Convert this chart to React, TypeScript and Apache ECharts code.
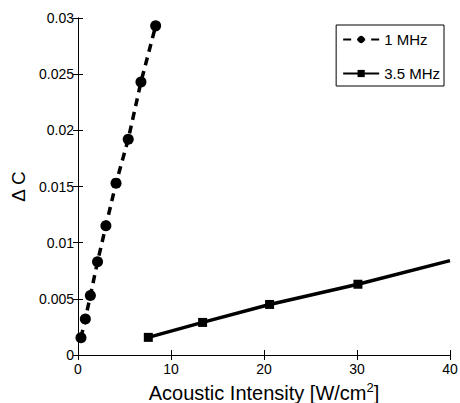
import React, { useEffect, useRef } from "react";
import * as echarts from "echarts";

const oneMHzX = [0.32, 0.79, 1.33, 2.1, 3.0, 4.09, 5.4, 6.77, 8.35];
const oneMHzY = [0.00154, 0.0032, 0.0053, 0.0083, 0.0115, 0.0153, 0.0192, 0.0243, 0.0293];
const threeMHzX = [7.56, 13.4, 20.6, 30.1, 40];
const threeMHzY = [0.00157, 0.0029, 0.0045, 0.0063, 0.0084];
const seriesNames = ["1 MHz", "3.5 MHz"];

export default function App() {
  const ref = useRef<HTMLDivElement>(null);
  useEffect(() => {
    if (!ref.current) return;
    const chart = echarts.init(ref.current, null, { renderer: "svg" });
    const font = "'Liberation Sans', Arial, Helvetica, sans-serif";
    const axisCommon = {
      axisLine: { lineStyle: { color: "#000", width: 1 } },
      splitLine: { show: false },
    };
    chart.setOption({
      animation: false,
      backgroundColor: "#fff",
      textStyle: { fontFamily: font, color: "#000" },
      grid: { left: 78, right: 10, top: 18, bottom: 48, outerBoundsMode: "none", containLabel: false },
      legend: {
        orient: "vertical",
        right: 16,
        top: 25,
        data: seriesNames,
        borderColor: "#000",
        borderWidth: 1,
        backgroundColor: "#fff",
        padding: [7, 4, 5, 6],
        itemGap: 19,
        itemWidth: 36,
        itemHeight: 9,
        textStyle: { fontSize: 15, color: "#000", fontFamily: font },
      },
      xAxis: [
        {
          type: "value",
          min: 0,
          max: 40,
          interval: 10,
          name: "{a|Acoustic Intensity [W/cm}{s|2}{a|]}",
          nameLocation: "middle",
          nameGap: 24,
          nameTextStyle: {
            rich: {
              a: { fontSize: 20, fontFamily: font, color: "#000", lineHeight: 22, verticalAlign: "bottom" },
              s: { fontSize: 13, fontFamily: font, color: "#000", lineHeight: 22, verticalAlign: "top" },
            },
          },
          axisTick: { inside: true, length: 5, lineStyle: { color: "#000" } },
          axisLabel: { fontSize: 14, color: "#000", fontFamily: font, margin: 7 },
          ...axisCommon,
        },
        {
          type: "value",
          position: "top",
          min: 0,
          max: 40,
          interval: 10,
          axisTick: { inside: true, length: 5, lineStyle: { color: "#000" } },
          axisLabel: { show: false },
          ...axisCommon,
        },
      ],
      yAxis: [
        {
          type: "value",
          min: 0,
          max: 0.03,
          interval: 0.005,
          name: "Δ C",
          nameLocation: "middle",
          nameGap: 50,
          nameTextStyle: { fontSize: 19, color: "#000", fontFamily: font },
          axisTick: { inside: true, length: 5, lineStyle: { color: "#000" } },
          axisLabel: { fontSize: 14, color: "#000", fontFamily: font, margin: 4 },
          ...axisCommon,
        },
        {
          type: "value",
          position: "right",
          min: 0,
          max: 0.03,
          interval: 0.005,
          axisTick: { inside: true, length: 5, lineStyle: { color: "#000" } },
          axisLabel: { show: false },
          ...axisCommon,
        },
      ],
      series: [
        {
          name: seriesNames[0],
          type: "line",
          data: oneMHzX.map((x, i) => [x, oneMHzY[i]]),
          symbol: "circle",
          symbolSize: 11,
          itemStyle: { color: "#000" },
          lineStyle: { color: "#000", width: 3.5, type: [8, 6] },
        },
        {
          name: seriesNames[1],
          type: "line",
          data: threeMHzX.map((x, i) => ({
            value: [x, threeMHzY[i]],
            symbolSize: i === threeMHzX.length - 1 ? 0 : 9,
          })),
          symbol: "rect",
          itemStyle: { color: "#000" },
          lineStyle: { color: "#000", width: 3.5 },
        },
      ],
    });
    return () => chart.dispose();
  }, []);
  return <div ref={ref} style={{ width: 460, height: 403, position: "absolute", left: 0, top: 0 }} />;
}
